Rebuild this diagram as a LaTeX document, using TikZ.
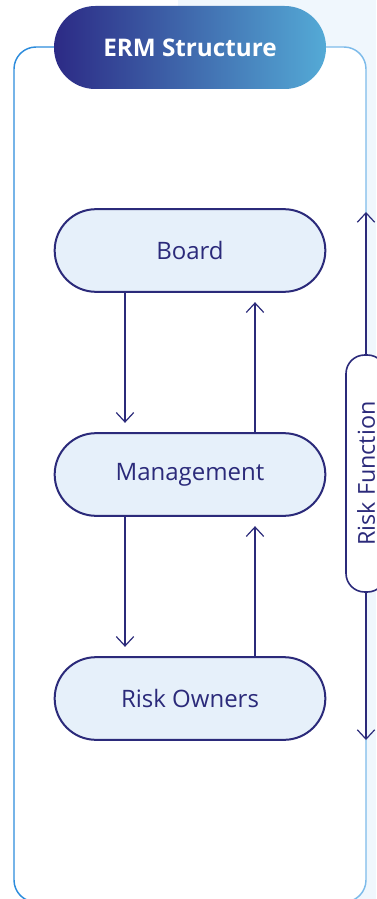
\documentclass[tikz,border=0pt]{standalone}
\usepackage{fontspec}
\setmainfont{Open Sans}
\usetikzlibrary{arrows.meta}

\definecolor{ermnavy}{RGB}{43,42,122}
\definecolor{ermfill}{RGB}{230,240,250}
\definecolor{ermpale}{RGB}{240,247,253}
\definecolor{ermdeep}{RGB}{44,42,133}
\definecolor{ermsky}{RGB}{84,170,214}
\definecolor{framel}{RGB}{45,140,220}
\definecolor{framer}{RGB}{125,187,234}

\tikzset{
  ermbox/.style={draw=ermnavy, line width=1.5pt, fill=ermfill, rounded corners=31pt,
    minimum width=203pt, minimum height=62pt, inner sep=0pt, text=ermnavy,
    font=\fontsize{18}{21}\selectfont},
  barb/.tip={Straight Barb[length=7pt,width=13pt]},
  flow/.style={draw=ermnavy, line width=0.9pt, -barb, shorten >=7pt},
}

\begin{document}
\begin{tikzpicture}[x=0.75pt,y=0.75pt,yscale=-1,xscale=1]
\useasboundingbox (0,0) rectangle (376,899);

% pale panel on the right
\fill[ermpale] (178,0) rectangle (376,899);

% outer frame, darker on the left, lighter on the right
\fill[white, rounded corners=16.5pt] (14,47) rectangle (366,902);
\draw[framel, line width=1.1pt, rounded corners=16.5pt] (190,47) -- (14,47) -- (14,902) -- (190,902);
\draw[framer, line width=1.1pt, rounded corners=16.5pt] (190,47) -- (366,47) -- (366,902) -- (190,902);

% title pill
\node[shade, left color=ermdeep, right color=ermsky, rounded corners=31pt,
  minimum width=204pt, minimum height=62.25pt, inner sep=0pt, text=white,
  font=\fontsize{18.2}{21}\selectfont\bfseries] (title) at (190,47.5) {ERM Structure};

% levels
\node[ermbox] (board) at (190,250.5) {Board};
\node[ermbox] (mgmt) at (190,474.5) {Management};
\node[ermbox] (owners) at (190,698.5) {Risk Owners};

% reporting lines
\draw[flow] ([xshift=-48.75pt]board.south) -- ([xshift=-48.75pt]mgmt.north);
\draw[flow] ([xshift=48.75pt]mgmt.north) -- ([xshift=48.75pt]board.south);
\draw[flow] ([xshift=-48.75pt]mgmt.south) -- ([xshift=-48.75pt]owners.north);
\draw[flow] ([xshift=48.75pt]owners.north) -- ([xshift=48.75pt]mgmt.south);

% risk function along the right edge
\coordinate (rftop) at (366,212);
\coordinate (rfbot) at (366,740);
\draw[draw=ermnavy, line width=0.9pt, barb-barb] (rftop) -- (rfbot);
\node[draw=ermnavy, line width=1.2pt, fill=white, rotate=90, rounded corners=14pt,
  minimum width=177.75pt, minimum height=30pt, inner sep=0pt, text=ermnavy,
  font=\fontsize{17.5}{20}\selectfont] (riskfn) at (366,473.5) {Risk Function};

\end{tikzpicture}
\end{document}
